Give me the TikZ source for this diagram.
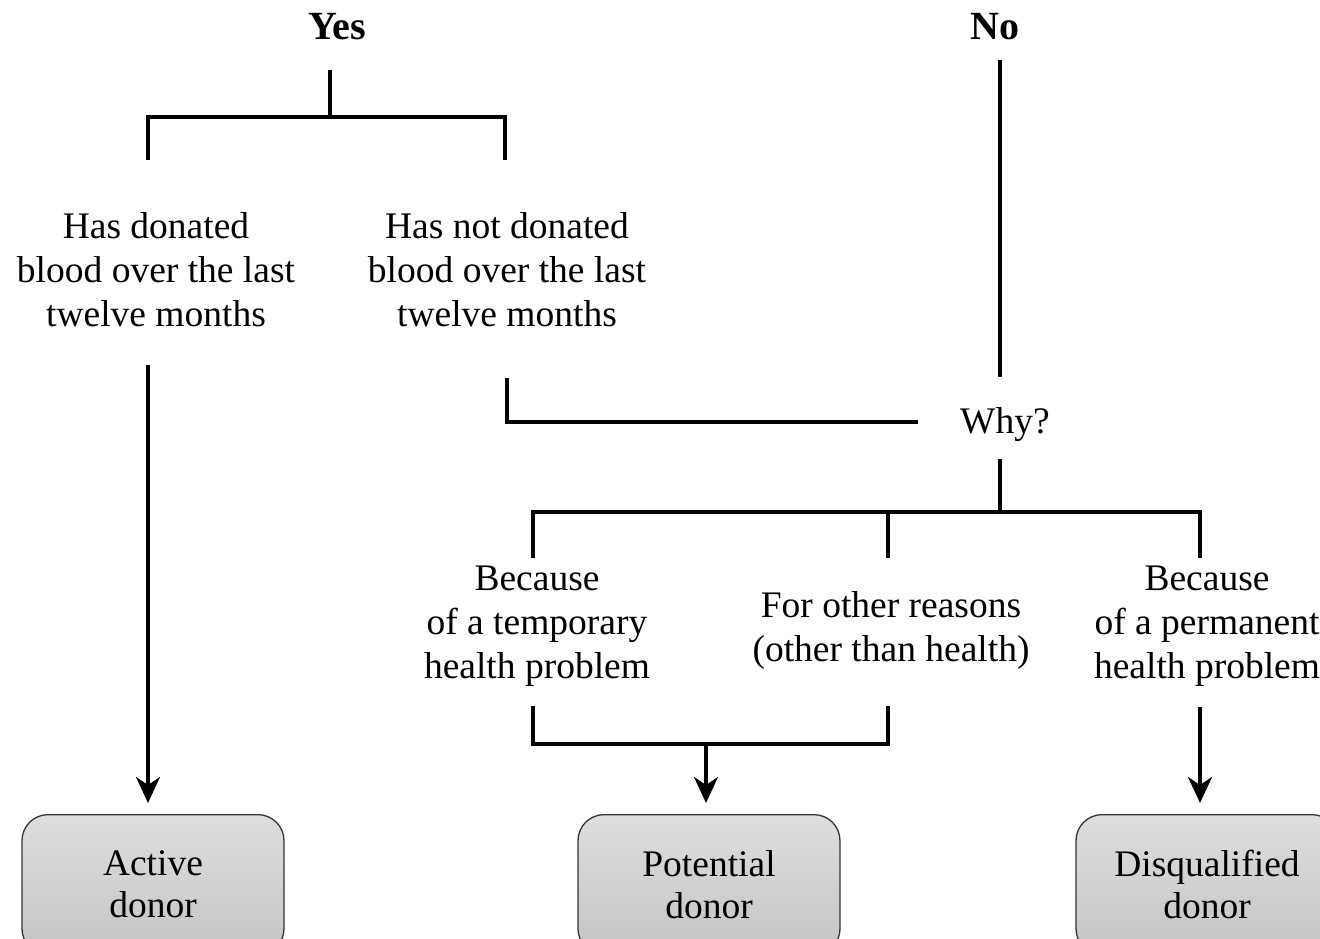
\documentclass[tikz,border=0pt]{standalone}
\usepackage{fontspec}
\setmainfont{Liberation Serif}
\usetikzlibrary{arrows.meta}
\begin{document}
\begin{tikzpicture}[x=1pt,y=-1pt,
  line/.style={line width=3.6pt},
  arr/.style={line width=3.6pt,-{Stealth[length=26pt,width=24pt,inset=8pt]}},
  lbl/.style={align=center,inner sep=0pt,font=\fontsize{37.5}{44}\selectfont},
  head/.style={inner sep=0pt,font=\fontsize{40}{44}\selectfont\bfseries},
  donor/.style={draw=black!80,line width=1.3pt,rounded corners=26pt,minimum width=262pt,minimum height=140pt,
    top color=black!13,bottom color=black!23,align=center,font=\fontsize{37.5}{42}\selectfont,inner sep=0pt}
]
\useasboundingbox (0,0) rectangle (1320,939);
% headings
\node[head] (yes) at (337,27) {Yes};
\node[head] (no) at (995,27) {No};
% level 1 labels
\node[lbl] (hd) at (156,270) {Has donated\\blood over the last\\twelve months};
\node[lbl] (hnd) at (507,270) {Has not donated\\blood over the last\\twelve months};
\node[lbl] (why) at (1005,425) {Why?};
\node[lbl] (temp) at (537,626) {Because\\of a temporary\\health problem};
\node[lbl] (other) at (891,630) {For other reasons\\(other than health)};
\node[lbl] (perm) at (1207,626) {Because\\of a permanent\\health problem};
% donor boxes
\node[donor,anchor=north] (active) at (153,814) {Active\\donor};
\node[donor,anchor=north] (potential) at (709,814) {Potential\\donor};
\node[donor,anchor=north] (disq) at (1207,814) {Disqualified\\donor};
% coordinates
\coordinate (ytop) at (330,70);
\coordinate (yj) at (330,117);
\coordinate (yl) at (148,117);
\coordinate (yr) at (505,117);
\coordinate (ylb) at (148,160);
\coordinate (yrb) at (505,160);
\coordinate (hdb) at (148,365);
\coordinate (hndb) at (507,378);
\coordinate (hndc) at (507,422);
\coordinate (whyl) at (918,422);
\coordinate (notop) at (1000,60);
\coordinate (nobot) at (1000,377);
\coordinate (whyb) at (1000,459);
\coordinate (wj) at (1000,512);
\coordinate (tl) at (533,512);
\coordinate (om) at (888,512);
\coordinate (pr) at (1200,512);
\coordinate (tlb) at (533,558);
\coordinate (omb) at (888,558);
\coordinate (prb) at (1200,558);
\coordinate (tb) at (533,706);
\coordinate (tc) at (533,744);
\coordinate (ob) at (888,706);
\coordinate (oc) at (888,744);
\coordinate (pj) at (706,744);
\coordinate (pb) at (1200,707);
% connectors
\draw[line] (ytop) -- (yj);
\draw[line] (ylb) -- (yl) -- (yr) -- (yrb);
\draw[arr] (hdb) -- ([yshift=11pt]hdb |- active.north);
\draw[line] (hndb) -- (hndc) -- (whyl);
\draw[line] (notop) -- (nobot);
\draw[line] (whyb) -- (wj);
\draw[line] (tlb) -- (tl) -- (pr) -- (prb);
\draw[line] (om) -- (omb);
\draw[line] (tb) -- (tc) -- (oc) -- (ob);
\draw[arr] (pj) -- ([yshift=11pt]pj |- potential.north);
\draw[arr] (pb) -- ([yshift=11pt]pb |- disq.north);
\end{tikzpicture}
\end{document}
